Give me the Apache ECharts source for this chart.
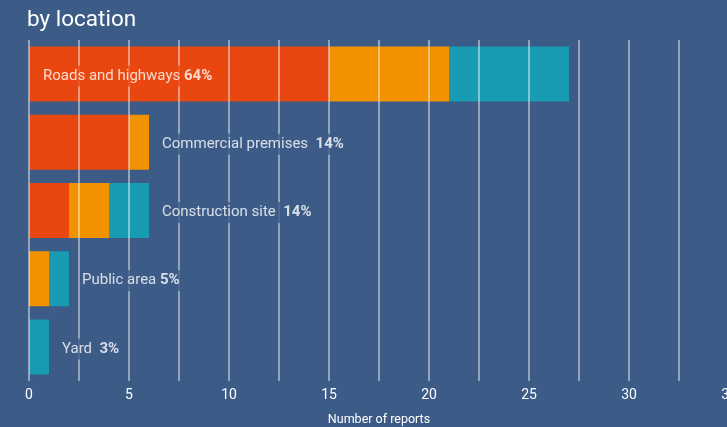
<!DOCTYPE html>
<html>
<head>
<meta charset="utf-8">
<script src="https://cdn.jsdelivr.net/npm/echarts@6/dist/echarts.min.js"></script>
<style>
  html, body { margin: 0; padding: 0; background: #3d5b87; }
  #chart { width: 727px; height: 427px; }
</style>
</head>
<body>
<div id="chart"></div>
<script>
// Reports by location, split into three stacked groups
const categories = ['Roads and highways', 'Commercial premises', 'Construction site', 'Public area', 'Yard'];
const shares = ['64%', '14%', '14%', '5%', '3%'];
const labelGaps = [' ', '  ', '  ', ' ', '  '];
const redValues = [15, 5, 2, 0, 0];
const orangeValues = [6, 1, 2, 1, 0];
const tealValues = [6, 0, 2, 1, 1];
const xTicks = [0, 5, 10, 15, 20, 25, 30, 35];

const BG = '#3d5b87';
const RED = '#e8470f';
const ORANGE = '#f39200';
const TEAL = '#179cb3';
const FONT = 'Roboto';

const totals = categories.map((_, i) => redValues[i] + orangeValues[i] + tealValues[i]);

const chart = echarts.init(document.getElementById('chart'), null, { renderer: 'canvas' });

function barSeries(name, color, data) {
  return {
    name, type: 'bar', stack: 'total', z: 2,
    barWidth: 55,
    itemStyle: { color },
    data
  };
}

// Labels: the first sits inside its bar, the rest just after the bar end.
// Each label carries a background so the grid lines break around it.
const labelData = categories.map((c, i) => {
  const inside = i === 0;
  return {
    value: [inside ? 0 : totals[i], c],
    label: {
      formatter: c + labelGaps[i] + '{b|' + shares[i] + '}',
      backgroundColor: inside ? RED : BG,
      offset: inside ? [7, 2] : [6, 2]
    }
  };
});

chart.setOption({
  backgroundColor: BG,
  animation: false,
  title: {
    text: 'by location',
    left: 22, top: 4,
    textStyle: { color: '#ffffff', fontFamily: FONT, fontSize: 22.5, fontWeight: 'normal' }
  },
  grid: { left: 29, right: -2, top: 40, bottom: 46, outerBoundsMode: 'none', containLabel: false },
  xAxis: {
    type: 'value', min: 0, max: 35, interval: 2.5, z: 3,
    name: 'Number of reports', nameLocation: 'middle', nameGap: 32,
    nameTextStyle: { color: '#ffffff', fontFamily: FONT, fontSize: 12.5 },
    axisLine: { show: false },
    axisTick: { show: false },
    axisLabel: {
      color: '#ffffff', fontFamily: FONT, fontSize: 14, margin: 7,
      hideOverlap: false,
      formatter: v => (xTicks.indexOf(v) >= 0 ? String(v) : '')
    },
    splitLine: { show: true, lineStyle: { color: 'rgba(255,255,255,0.6)', width: 1.5 } }
  },
  yAxis: {
    type: 'category', data: categories, inverse: true,
    axisLine: { show: false }, axisTick: { show: false }, axisLabel: { show: false },
    splitLine: { show: false }
  },
  series: [
    barSeries('red', RED, redValues),
    barSeries('orange', ORANGE, orangeValues),
    barSeries('teal', TEAL, tealValues),
    {
      type: 'scatter', z: 5, symbolSize: 0, silent: true,
      data: labelData,
      label: {
        show: true, position: 'right', distance: 5,
        color: '#ffffff', fontFamily: FONT, fontSize: 15,
        padding: [3, 2, 3, 2],
        rich: { b: { color: '#ffffff', fontFamily: FONT, fontSize: 15, fontWeight: 'bold' } }
      }
    }
  ]
});
</script>
</body>
</html>
